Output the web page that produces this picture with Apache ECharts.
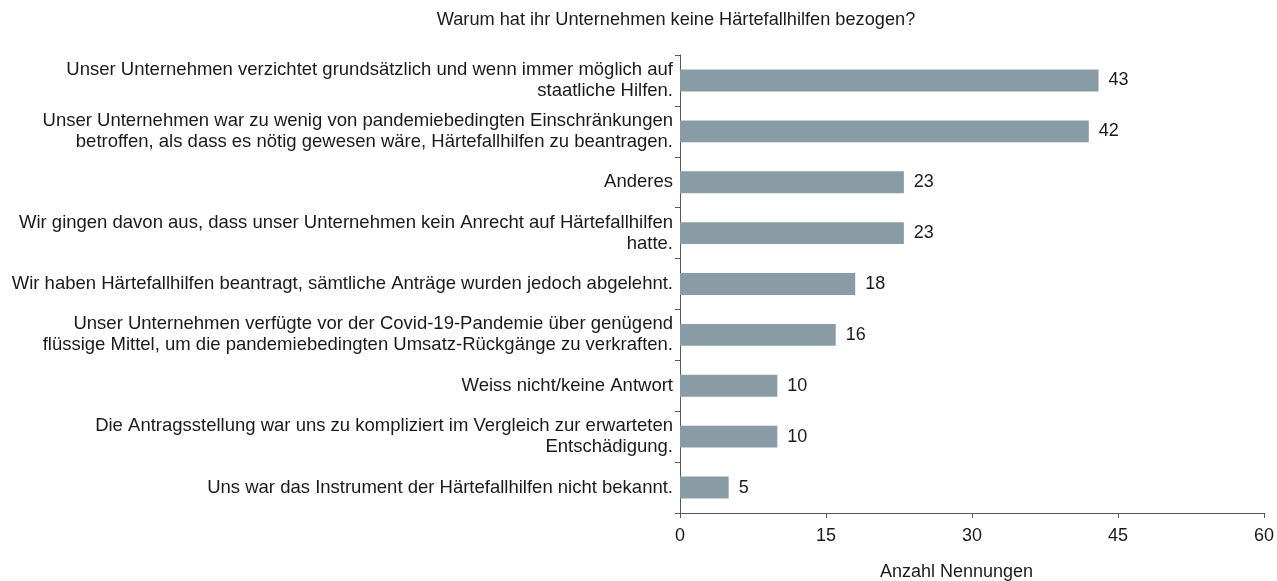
<!DOCTYPE html>
<html><head><meta charset="utf-8">
<script src="https://cdn.jsdelivr.net/npm/echarts@6/dist/echarts.min.js"></script>
<style>html,body{margin:0;padding:0;background:#fff}#c{width:1277px;height:581px}</style>
</head><body><div id="c"></div>
<script>
const categories = [
  "Unser Unternehmen verzichtet grundsätzlich und wenn immer möglich auf\nstaatliche Hilfen.",
  "Unser Unternehmen war zu wenig von pandemiebedingten Einschränkungen\nbetroffen, als dass es nötig gewesen wäre, Härtefallhilfen zu beantragen.",
  "Anderes",
  "Wir gingen davon aus, dass unser Unternehmen kein Anrecht auf Härtefallhilfen\nhatte.",
  "Wir haben Härtefallhilfen beantragt, sämtliche Anträge wurden jedoch abgelehnt.",
  "Unser Unternehmen verfügte vor der Covid-19-Pandemie über genügend\nflüssige Mittel, um die pandemiebedingten Umsatz-Rückgänge zu verkraften.",
  "Weiss nicht/keine Antwort",
  "Die Antragsstellung war uns zu kompliziert im Vergleich zur erwarteten\nEntschädigung.",
  "Uns war das Instrument der Härtefallhilfen nicht bekannt."
];
const values = [43, 42, 23, 23, 18, 16, 10, 10, 5];
const titleText = "Warum hat ihr Unternehmen keine Härtefallhilfen bezogen?";
const axisName = "Anzahl Nennungen";

const chart = echarts.init(document.getElementById('c'));
const font = 'Liberation Sans, Arial, sans-serif';
chart.setOption({
  animation: false,
  title: {text: titleText, left: 671, top: 6, textAlign: 'center',
    textStyle: {fontFamily: font, fontSize: 18.2, fontWeight: 'normal', color: '#1a1a1a'}},
  grid: {left: 680, right: 10, top: 55, bottom: 68, containLabel: false},
  xAxis: {type: 'value', min: 0, max: 60, interval: 15,
    axisLine: {show: true, lineStyle: {color: '#595959'}},
    axisTick: {show: true, length: 5, lineStyle: {color: '#595959'}},
    splitLine: {show: false},
    axisLabel: {fontFamily: font, fontSize: 18, color: '#1a1a1a', margin: 14}},
  yAxis: {type: 'category', inverse: true, data: categories,
    axisLine: {show: true, lineStyle: {color: '#595959'}},
    axisTick: {show: true, length: 5, lineStyle: {color: '#595959'}},
    axisLabel: {fontFamily: font, fontSize: 18.5, color: '#1a1a1a', margin: 7, lineHeight: 21, align: 'right'}},
  graphic: [{type: 'text', left: 880, top: 563,
    style: {text: axisName, font: '18px ' + font, fill: '#1a1a1a'}}],
  series: [{type: 'bar', data: values, barWidth: '43%',
    itemStyle: {color: '#899ba5'},
    label: {show: true, position: 'right', distance: 10, fontFamily: font, fontSize: 18, color: '#1a1a1a'}}]
});
</script></body></html>
